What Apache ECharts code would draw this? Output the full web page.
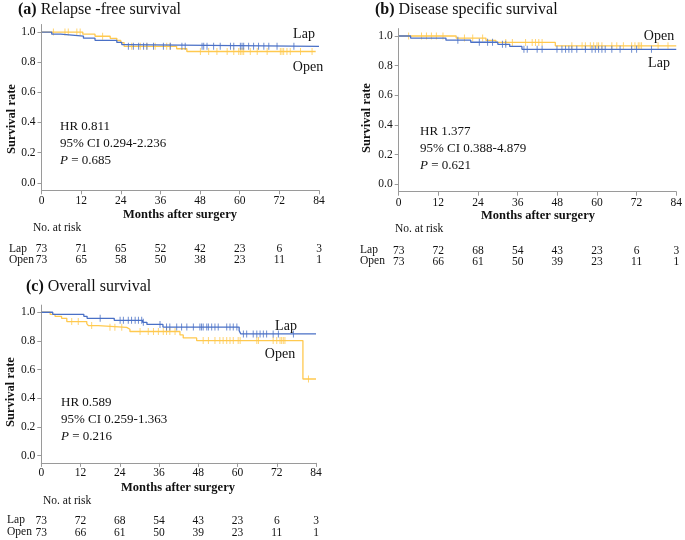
<!DOCTYPE html>
<html><head><meta charset="utf-8">
<script src="https://cdn.jsdelivr.net/npm/echarts@6/dist/echarts.min.js"></script>
<style>html,body{margin:0;padding:0;background:#fff}#c{width:685px;height:540px}</style>
</head><body><div id="c"></div>
<script>
// ---- shared ----
const months = [0, 12, 24, 36, 48, 60, 72, 84];
const yTicks = [0, 0.2, 0.4, 0.6, 0.8, 1.0];

// ---- (a) Relapse-free survival ----
const rfsLapT = [0, 3.1, 5.8, 12.7, 16.2, 22.8, 24.3, 25.3, 84];
const rfsLapS = [1, 0.986, 0.973, 0.959, 0.945, 0.931, 0.917, 0.905, 0.905];
const rfsOpenT = [0, 12.5, 16.2, 20.8, 22.8, 24.0, 25.0, 40.9, 44.0, 83];
const rfsOpenS = [1, 0.986, 0.972, 0.958, 0.944, 0.930, 0.905, 0.889, 0.871, 0.871];
const rfsLapC = [26.3, 27.8, 29.4, 30.9, 31.9, 33.9, 36.9, 39.0, 42.5, 43.5, 48.6, 49.1, 50.1, 52.1, 54.1, 57.2, 58.2, 60.2, 60.7, 61.2, 62.7, 64.2, 65.7, 67.3, 68.8, 71.3, 76.4];
const rfsOpenC = [3.6, 7.1, 8.1, 10.7, 11.7, 18.5, 27.3, 29.9, 31.9, 34.4, 37.9, 38.9, 48.1, 50.6, 53.1, 56.2, 58.2, 59.7, 60.2, 60.7, 61.2, 63.2, 65.3, 68.3, 72.3, 72.8, 73.3, 74.3, 75.3, 78.4, 81.9];
const rfsLapRisk = [73, 71, 65, 52, 42, 23, 6, 3];
const rfsOpenRisk = [73, 65, 58, 50, 38, 23, 11, 1];

// ---- (b) Disease specific survival ----
const dssLapT = [0, 3.6, 14.3, 21.8, 30.0, 33.6, 37.3, 84];
const dssLapS = [1, 0.986, 0.972, 0.958, 0.944, 0.930, 0.910, 0.910];
const dssOpenT = [0, 17.4, 26.4, 29.4, 47.4, 84];
const dssOpenS = [1, 0.986, 0.971, 0.957, 0.934, 0.934];
const dssLapC = [17.9, 24.4, 26.9, 28.4, 31.4, 32.4, 37.9, 38.9, 41.9, 43.4, 47.9, 49.4, 50.5, 51.5, 52.4, 53.9, 56.5, 58.5, 59.5, 60.5, 61.5, 62.5, 64.5, 67.0, 70.5, 72.0, 76.5];
const dssOpenC = [3.0, 6.9, 8.4, 9.9, 11.4, 13.4, 19.9, 22.4, 25.4, 32.4, 34.4, 38.4, 40.4, 41.4, 42.4, 43.4, 52.4, 55.5, 56.5, 58.0, 59.0, 60.0, 60.5, 61.5, 64.5, 66.0, 68.0, 70.5, 71.5, 72.5, 73.0, 73.5, 78.5, 81.5];
const dssLapRisk = [73, 72, 68, 54, 43, 23, 6, 3];
const dssOpenRisk = [73, 66, 61, 50, 39, 23, 11, 1];

// ---- (c) Overall survival ----
const osLapT = [0, 3.5, 13.0, 14.0, 22.3, 31.0, 32.3, 37.2, 60.5, 61.0, 84];
const osLapS = [1, 0.986, 0.972, 0.958, 0.944, 0.930, 0.915, 0.897, 0.872, 0.849, 0.849];
const osOpenT = [0, 2.7, 4.2, 6.2, 7.8, 13.9, 14.4, 17.4, 26.1, 27.1, 42.4, 43.4, 47.5, 80.0, 84];
const osOpenS = [1, 0.986, 0.972, 0.958, 0.935, 0.921, 0.907, 0.895, 0.882, 0.866, 0.842, 0.821, 0.803, 0.535, 0.535];
const osLapC = [18.0, 24.1, 25.1, 26.6, 27.6, 28.7, 29.7, 30.7, 31.2, 36.3, 38.3, 39.3, 41.4, 42.9, 44.5, 46.5, 48.5, 49.0, 49.5, 50.6, 51.1, 52.1, 53.1, 54.1, 56.7, 57.7, 58.7, 59.8, 61.8, 62.8, 64.8, 65.9, 66.9, 67.9, 68.9, 70.9, 72.5, 77.1];
const osOpenC = [9.3, 11.3, 15.4, 21.0, 22.5, 24.6, 30.2, 32.7, 34.3, 35.8, 37.3, 38.3, 39.3, 40.9, 49.5, 51.1, 53.1, 54.6, 55.6, 56.7, 57.7, 58.7, 60.2, 60.8, 65.9, 66.4, 70.9, 72.0, 73.0, 73.5, 74.0, 74.5, 81.7];
const osLapRisk = [73, 72, 68, 54, 43, 23, 6, 3];
const osOpenRisk = [73, 66, 61, 50, 39, 23, 11, 1];

// ---- styling ----
const LAP = '#4a70c6';
const OPEN = '#ffc94f';
const AX = '#9a9a9a';
const TXT = '#111';
const SERIF = '"Liberation Serif", "Times New Roman", serif';
const SMALL = 11.5;

function survAt(T, S, t) {
  let v = S[0];
  for (let i = 0; i < T.length; i++) { if (T[i] <= t) v = S[i]; }
  return v;
}

const grids = [
  { left: 41.5, top: 24.5, width: 277.5, height: 165.8 },
  { left: 398.7, top: 28.6, width: 279.6, height: 163.1 },
  { left: 41.3, top: 305.1, width: 274.7, height: 157.8 }
];
const riskOff = [[53, 64], [53, 64], [52, 64]];
const labMargin = [5, 5.3, 4];
const risks = [[rfsLapRisk, rfsOpenRisk], [dssLapRisk, dssOpenRisk], [osLapRisk, osOpenRisk]];
const curves = [
  [[rfsLapT, rfsLapS, rfsLapC], [rfsOpenT, rfsOpenS, rfsOpenC]],
  [[dssLapT, dssLapS, dssLapC], [dssOpenT, dssOpenS, dssOpenC]],
  [[osLapT, osLapS, osLapC], [osOpenT, osOpenS, osOpenC]]
];

const xAxis = [], yAxis = [], series = [];
grids.forEach((g, gi) => {
  xAxis.push({
    gridIndex: gi, type: 'value', min: 0, max: 84, interval: 12, position: 'bottom',
    axisLine: { onZero: false, lineStyle: { color: AX, width: 1 } },
    axisTick: { length: 4, lineStyle: { color: AX } },
    splitLine: { show: false },
    axisLabel: { margin: labMargin[gi], color: TXT, fontFamily: SERIF, fontSize: SMALL }
  });
  risks[gi].forEach((r, ri) => {
    xAxis.push({
      gridIndex: gi, type: 'value', min: 0, max: 84, interval: 12, position: 'bottom',
      offset: riskOff[gi][ri],
      axisLine: { show: false }, axisTick: { show: false }, splitLine: { show: false },
      axisLabel: { margin: 0, color: TXT, fontFamily: SERIF, fontSize: SMALL,
        formatter: v => String(r[Math.round(v / 12)]) }
    });
  });
  yAxis.push({
    gridIndex: gi, type: 'value', min: -0.05, max: 1.05,
    axisLine: { show: true, onZero: false, lineStyle: { color: AX, width: 1 } },
    axisTick: { show: true, length: 4, customValues: yTicks, lineStyle: { color: AX } },
    axisLabel: { margin: 6, customValues: yTicks, color: TXT, fontFamily: SERIF, fontSize: SMALL,
      formatter: v => v.toFixed(1) },
    splitLine: { show: false }
  });
  curves[gi].forEach((c, ci) => {
    const col = ci === 0 ? LAP : OPEN;
    const [T, S, C] = c;
    series.push({
      type: 'line', xAxisIndex: gi * 3, yAxisIndex: gi, step: 'end', showSymbol: false,
      data: T.map((t, i) => [t, S[i]]), lineStyle: { color: col, width: 1.3 },
      z: ci === 0 ? 3 : 2, silent: true
    });
    series.push({
      type: 'scatter', xAxisIndex: gi * 3, yAxisIndex: gi, symbol: 'rect', symbolSize: [1, 7],
      data: C.map(t => [t, survAt(T, S, t)]), itemStyle: { color: col },
      z: ci === 0 ? 3 : 2, silent: true
    });
  });
});

function txt(x, y, text, opts) {
  return Object.assign({
    type: 'text', x: x, y: y,
    style: Object.assign({ text: text, fill: TXT, fontFamily: SERIF, fontSize: 13,
      align: 'left', verticalAlign: 'middle' }, (opts && opts.style) || {})
  }, (opts && opts.el) || {});
}
function title(x, y, lab, rest) {
  return {
    type: 'text', x: x, y: y,
    style: { text: '{b|' + lab + '} ' + rest, fill: TXT, fontFamily: SERIF, fontSize: 16,
      align: 'left', verticalAlign: 'middle',
      rich: { b: { fontWeight: 'bold', fontFamily: SERIF, fontSize: 16, fill: TXT } } }
  };
}
function vtitle(x, y) {
  return txt(x, y, 'Survival rate', { style: { fontWeight: 'bold', fontSize: 12.5, align: 'center' }, el: { rotation: Math.PI / 2 } });
}
function htitle(x, y) {
  return txt(x, y, 'Months after surgery', { style: { fontWeight: 'bold', fontSize: 12.5, align: 'center' } });
}
function stats(x, y, hr, ci, p) {
  return [
    txt(x, y, 'HR ' + hr),
    txt(x, y + 17, '95% CI ' + ci),
    { type: 'text', x: x, y: y + 34, style: { text: '{i|P} = ' + p, fill: TXT, fontFamily: SERIF, fontSize: 13,
      align: 'left', verticalAlign: 'middle', rich: { i: { fontStyle: 'italic', fontFamily: SERIF, fontSize: 13, fill: TXT } } } }
  ];
}
const sm = { style: { fontSize: SMALL } };

const graphic = [
  title(18, 10, '(a)', 'Relapse -free survival'),
  title(375, 10, '(b)', 'Disease specific survival'),
  title(26, 287, '(c)', 'Overall survival'),
  vtitle(12, 119), vtitle(367, 118), vtitle(11, 392),
  htitle(180, 215), htitle(538, 216), htitle(178, 488),
  txt(33, 228, 'No. at risk', sm),
  txt(395, 229, 'No. at risk', sm),
  txt(43, 501, 'No. at risk', sm),
  txt(9, 249, 'Lap', sm), txt(9, 260, 'Open', sm),
  txt(360, 250, 'Lap', sm), txt(360, 261, 'Open', sm),
  txt(7, 520, 'Lap', sm), txt(7, 532, 'Open', sm),
  txt(304, 34, 'Lap', { style: { align: 'center', fontSize: 14 } }),
  txt(308, 67, 'Open', { style: { align: 'center', fontSize: 14 } }),
  txt(659, 36, 'Open', { style: { align: 'center', fontSize: 14 } }),
  txt(659, 63, 'Lap', { style: { align: 'center', fontSize: 14 } }),
  txt(286, 326, 'Lap', { style: { align: 'center', fontSize: 14 } }),
  txt(280, 354, 'Open', { style: { align: 'center', fontSize: 14 } })
].concat(stats(60, 127, '0.811', '0.294-2.236', '0.685'))
 .concat(stats(420, 132, '1.377', '0.388-4.879', '0.621'))
 .concat(stats(61, 403, '0.589', '0.259-1.363', '0.216'));

const chart = echarts.init(document.getElementById('c'), null, { renderer: 'canvas' });
chart.setOption({
  animation: false,
  backgroundColor: '#fff',
  grid: grids,
  xAxis: xAxis,
  yAxis: yAxis,
  series: series,
  graphic: graphic
});
</script></body></html>
